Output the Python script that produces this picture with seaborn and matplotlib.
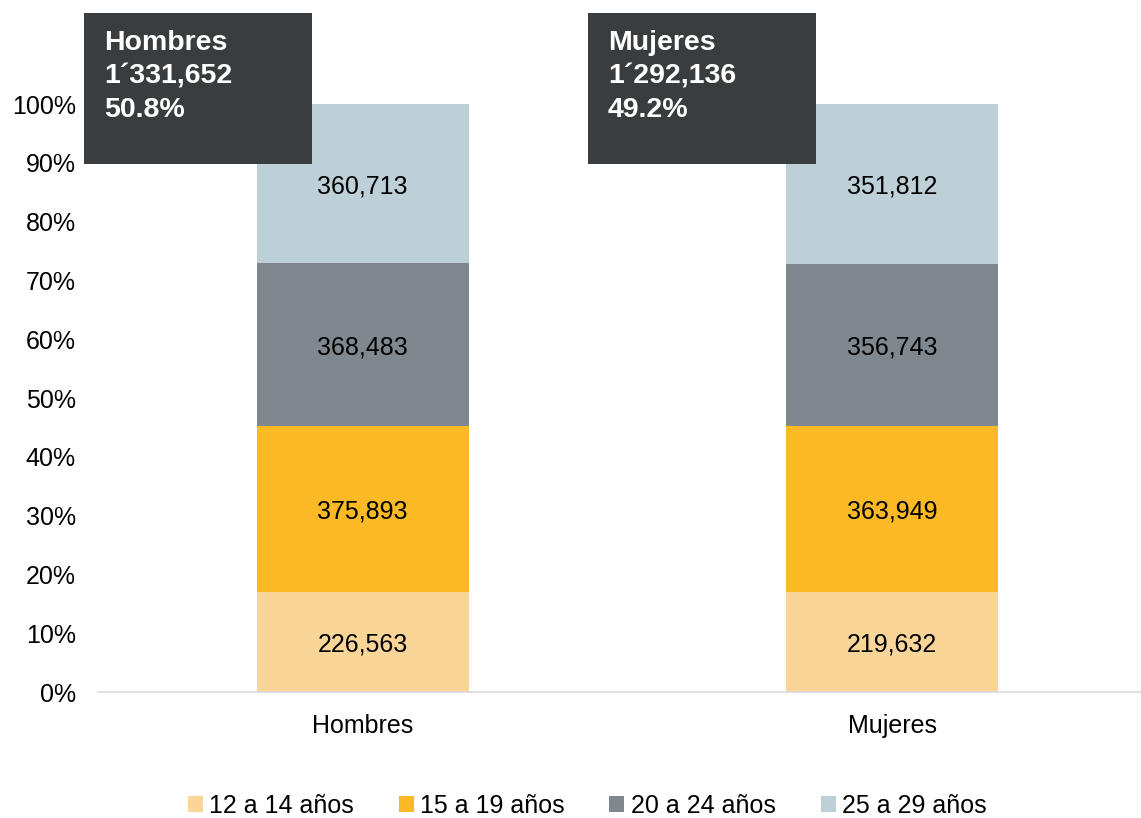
import matplotlib
matplotlib.use("Agg")
import matplotlib.pyplot as plt
import seaborn as sns
import pandas as pd
import numpy as np
from matplotlib.patches import Rectangle, Patch

categories = ["Hombres", "Mujeres"]
groups = ["12 a 14 años", "15 a 19 años", "20 a 24 años", "25 a 29 años"]
hombres = [226563, 375893, 368483, 360713]
mujeres = [219632, 363949, 356743, 351812]
box_lines = [["Hombres", "1´331,652", "50.8%"], ["Mujeres", "1´292,136", "49.2%"]]
colors = ["#F9D598", "#FBBA25", "#7F888E", "#BDD0D8"]
yticks = [0, 0.1, 0.2, 0.3, 0.4, 0.5, 0.6, 0.7, 0.8, 0.9, 1.0]

sns.set_theme(style="white")
plt.rcParams["font.family"] = ["Liberation Sans", "DejaVu Sans"]
plt.rcParams["text.color"] = "black"
plt.rcParams["xtick.color"] = "black"
plt.rcParams["ytick.color"] = "black"

vals = np.array([hombres, mujeres], dtype=float)
frac = vals / vals.sum(axis=1, keepdims=True)
bottoms = np.cumsum(frac, axis=1) - frac

fig = plt.figure(figsize=(11.41, 8.18), dpi=100)
ax = fig.add_axes([98/1141, 1-692/818, (1141-98)/1141, (692-104)/818])

for j, g in enumerate(groups):
    df = pd.DataFrame({"cat": categories, "val": frac[:, j]})
    sns.barplot(data=df, x="cat", y="val", color=colors[j], width=0.4,
                bottom=bottoms[:, j], ax=ax, saturation=1, linewidth=0)
    for i in range(len(categories)):
        ax.text(i, bottoms[i, j] + frac[i, j] / 2, f"{int(vals[i, j]):,}",
                ha="center", va="center_baseline", fontsize=18, color="black")

ax.set_xlim(-0.5, 1.47)
ax.set_ylim(0, 1)
ax.set_yticks(yticks)
ax.set_yticklabels([f"{int(round(t*100))}%" for t in yticks], fontsize=18)
ax.tick_params(axis="x", labelsize=18, length=0, pad=16)
ax.tick_params(axis="y", length=0, pad=16)
ax.set_xlabel("")
ax.set_ylabel("")
for s in ["top", "right", "left"]:
    ax.spines[s].set_visible(False)
ax.spines["bottom"].set_color("#D9D9D9")
ax.spines["bottom"].set_linewidth(1.2)
ax.spines["bottom"].set_clip_on(False)

# annotation boxes
box_x = [84, 588]
baselines = [50, 83, 117]
for bx, lines in zip(box_x, box_lines):
    fig.patches.append(Rectangle((bx/1141, 1-164/818), 228/1141, 151/818,
                                 transform=fig.transFigure, facecolor="#3A3D40",
                                 edgecolor="none", zorder=5))
    for line, by in zip(lines, baselines):
        fig.text((bx+20)/1141, 1-by/818, line, ha="left", va="baseline",
                 fontsize=20.5, fontweight="bold", color="white", zorder=6)

handles = [Patch(facecolor=c, edgecolor="none") for c in colors]
fig.legend(handles, groups, loc="center", bbox_to_anchor=(587/1141, 1-806/818),
           ncol=4, frameon=False, fontsize=18, handlelength=0.6, handleheight=0.6,
           handletextpad=0.25, columnspacing=1.8)

fig.savefig("out.png", dpi=100)
